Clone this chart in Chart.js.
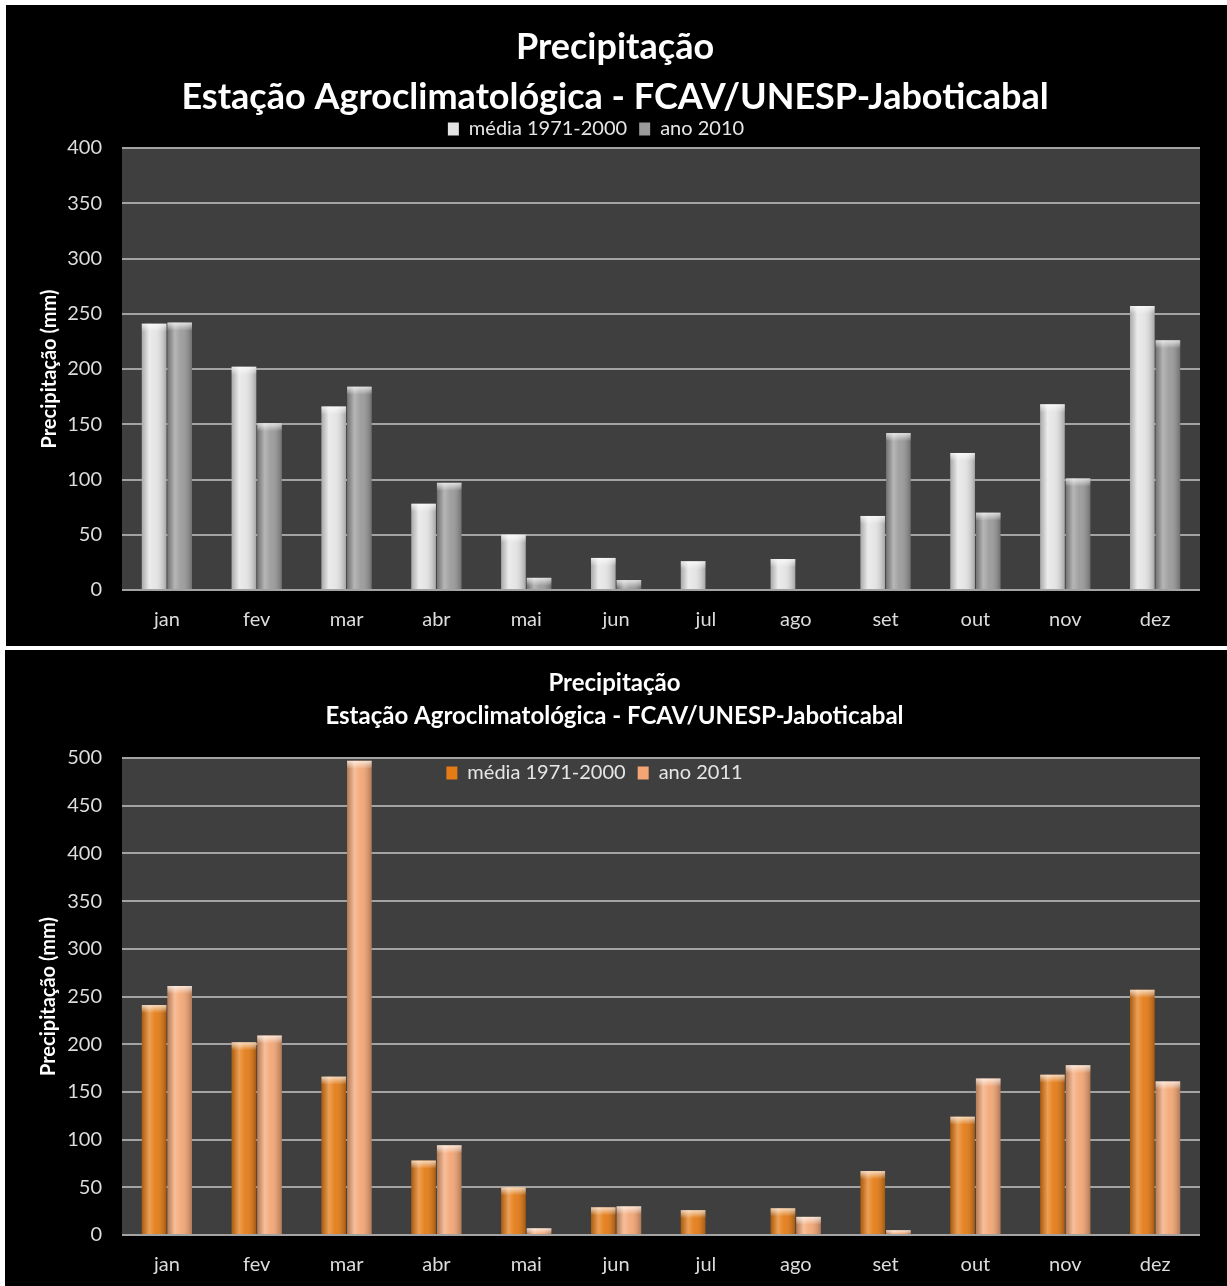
<!DOCTYPE html>
<html>
<head>
  <meta charset="utf-8">
  <title>Precipitação - FCAV/UNESP-Jaboticabal</title>
  <style>
    body { margin: 0; background: #fff; width: 1227px; height: 1286px; position: relative; overflow: hidden; }
    .painel { position: absolute; background: #000; }
    .painel canvas { display: block; }
    #p1 { left: 6px; top: 5px; width: 1221px; height: 641px; }
    #p2 { left: 5px; top: 650px; width: 1222px; height: 636px; }
  </style>
</head>
<body>
  <div class="painel" id="p1"><canvas id="c1" width="1221" height="641"></canvas></div>
  <div class="painel" id="p2"><canvas id="c2" width="1222" height="636"></canvas></div>

  <script src="https://cdn.jsdelivr.net/npm/chart.js"></script>
  <script>
    // dados (mm)
    const meses = ['jan', 'fev', 'mar', 'abr', 'mai', 'jun', 'jul', 'ago', 'set', 'out', 'nov', 'dez'];
    const media7100 = [241, 202, 166, 78, 50, 29, 26, 28, 67, 124, 168, 257];
    const ano2010 = [242, 151, 184, 97, 11, 9, 0, 0, 142, 70, 101, 226];
    const ano2011 = [261, 209, 497, 94, 7, 30, 0, 19, 5, 164, 178, 161];

    const titulo1 = 'Precipitação';
    const titulo2 = 'Estação Agroclimatológica - FCAV/UNESP-Jaboticabal';
    const tituloY = 'Precipitação (mm)';

    const FONTE = 'Lato, "Open Sans", sans-serif';

    // fundo cinza da area de plotagem
    const fundoPlot = {
      id: 'fundoPlot',
      beforeDraw(chart) {
        const { ctx, chartArea: a } = chart;
        ctx.save();
        ctx.fillStyle = '#3f3f3f';
        ctx.fillRect(a.left, a.top, a.right - a.left, a.bottom - a.top);
        ctx.restore();
      }
    };

    // brilho cilindrico das barras
    const sombreado = {
      id: 'sombreado',
      afterDatasetsDraw(chart) {
        const ctx = chart.ctx;
        chart.data.datasets.forEach((ds, i) => {
          chart.getDatasetMeta(i).data.forEach(bar => {
            const { x, y, base, width } = bar.getProps(['x', 'y', 'base', 'width'], true);
            const h = base - y;
            if (h < 1) return;
            const left = x - width / 2;
            const g = ctx.createLinearGradient(left, 0, left + width, 0);
            g.addColorStop(0, 'rgba(0,0,0,0.25)');
            g.addColorStop(0.3, 'rgba(255,255,255,0.28)');
            g.addColorStop(0.55, 'rgba(255,255,255,0.06)');
            g.addColorStop(1, 'rgba(0,0,0,0.28)');
            ctx.save();
            ctx.fillStyle = g;
            ctx.fillRect(left, y, width, h);
            const capH = Math.min(8, h);
            const g2 = ctx.createLinearGradient(0, y, 0, y + capH);
            g2.addColorStop(0, 'rgba(255,255,255,0.7)');
            g2.addColorStop(1, 'rgba(255,255,255,0)');
            ctx.fillStyle = g2;
            ctx.fillRect(left, y, width, capH);
            ctx.restore();
          });
        });
      }
    };

    // reposiciona a legenda (no 2o grafico ela fica dentro da area de plotagem)
    const moveLegenda = {
      id: 'moveLegenda',
      afterLayout(chart, args, opts) {
        const lg = chart.legend;
        const h = lg.bottom - lg.top;
        if (opts.top != null) {
          lg.top = opts.top;
          lg.bottom = opts.top + h;
        }
        if (opts.dx) {
          lg.left += opts.dx;
          lg.right += opts.dx;
        }
      }
    };

    function opcoes(cfg) {
      return {
        responsive: false,
        animation: false,
        layout: { padding: { left: 24, right: 27, top: 0, bottom: 0 } },
        datasets: { bar: { categoryPercentage: 0.57, barPercentage: 0.96 } },
        plugins: {
          title: {
            display: true,
            text: titulo1,
            color: '#ffffff',
            font: { family: FONTE, size: cfg.tamTitulo, weight: 'bold', lineHeight: 1 },
            padding: cfg.padTitulo
          },
          subtitle: {
            display: true,
            text: titulo2,
            color: '#ffffff',
            font: { family: FONTE, size: cfg.tamTitulo, weight: 'bold', lineHeight: 1 },
            padding: cfg.padSub
          },
          legend: {
            position: 'top',
            labels: {
              color: '#e6e6e6',
              font: { family: FONTE, size: 20 },
              boxWidth: 11,
              boxHeight: 13,
              padding: 12
            }
          },
          moveLegenda: { top: cfg.legendaTop, dx: cfg.legendaDx },
          tooltip: { enabled: false }
        },
        scales: {
          x: {
            grid: { display: false, drawTicks: false },
            border: { display: false },
            ticks: { color: '#dcdcdc', font: { family: FONTE, size: 20 }, padding: 18 },
            afterFit(scale) { scale.height = cfg.altX; }
          },
          y: {
            min: 0,
            max: cfg.yMax,
            ticks: { stepSize: 50, color: '#dcdcdc', font: { family: FONTE, size: 20 }, padding: 20 },
            grid: { color: '#a3a3a3', lineWidth: 2, drawTicks: false },
            border: { display: false },
            title: {
              display: true,
              text: tituloY,
              color: '#ffffff',
              font: { family: FONTE, size: 20, weight: 'bold', lineHeight: 1.2 },
              padding: { top: 8, bottom: 0 }
            },
            afterFit(scale) { scale.width = cfg.largY; }
          }
        }
      };
    }

    new Chart(document.getElementById('c1'), {
      type: 'bar',
      data: {
        labels: meses,
        datasets: [
          { label: 'média 1971-2000', data: media7100, backgroundColor: '#e4e4e4' },
          { label: 'ano 2010', data: ano2010, backgroundColor: '#9a9a9a' }
        ]
      },
      options: opcoes({
        yMax: 400, tamTitulo: 36, altX: 56, largY: 92,
        padTitulo: { top: 24, bottom: 0 }, padSub: { top: 14, bottom: -9 },
        legendaTop: 102, legendaDx: -19
      }),
      plugins: [fundoPlot, sombreado, moveLegenda]
    });

    new Chart(document.getElementById('c2'), {
      type: 'bar',
      data: {
        labels: meses,
        datasets: [
          { label: 'média 1971-2000', data: media7100, backgroundColor: '#e57b14' },
          { label: 'ano 2011', data: ano2011, backgroundColor: '#f3a674' }
        ]
      },
      options: opcoes({
        yMax: 500, tamTitulo: 24, altX: 51, largY: 93,
        padTitulo: { top: 21, bottom: 0 }, padSub: { top: 9, bottom: -12 },
        legendaTop: 101, legendaDx: -20
      }),
      plugins: [fundoPlot, sombreado, moveLegenda]
    });
  </script>
</body>
</html>
